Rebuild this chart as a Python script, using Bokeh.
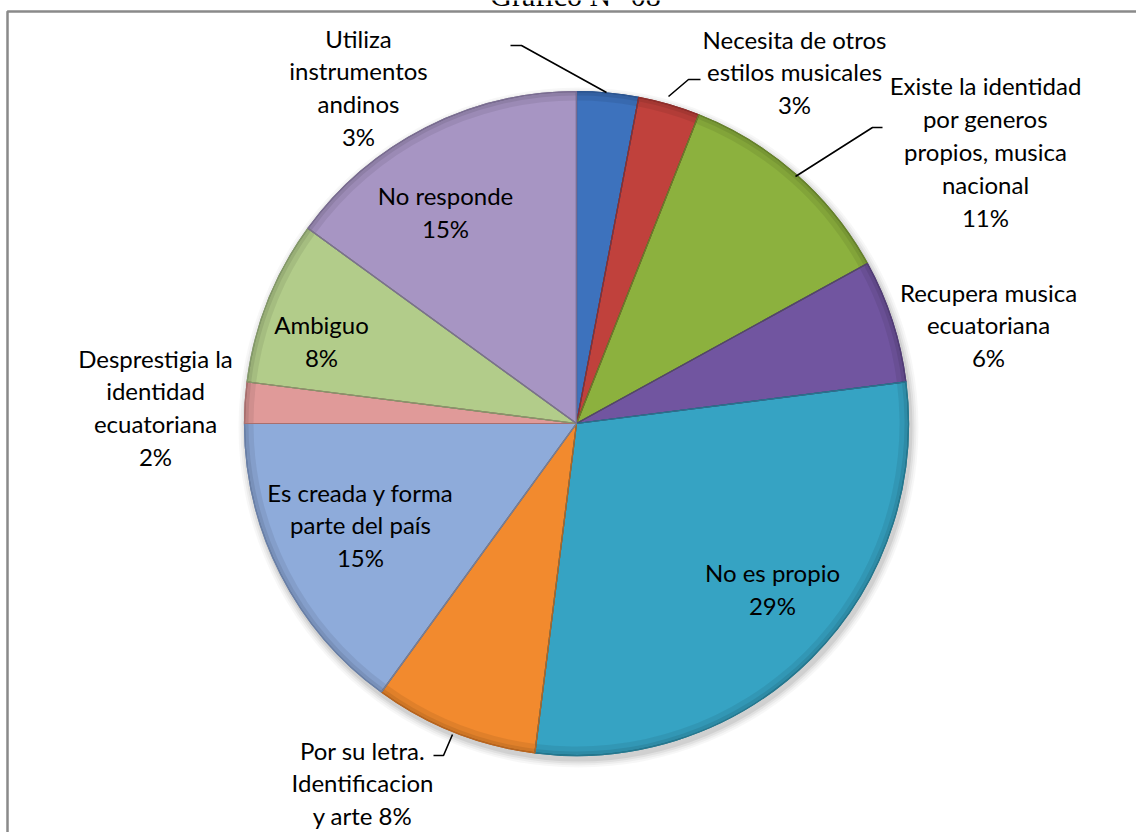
import numpy as np
from bokeh.plotting import figure
from bokeh.models import Range1d, ColumnDataSource
from bokeh.core.properties import value
from bokeh.embed import file_html
from bokeh.resources import INLINE

# ---- data ----
categories = [
    "Utiliza\ninstrumentos\nandinos",
    "Necesita de otros\nestilos musicales",
    "Existe la identidad\npor generos\npropios, musica\nnacional",
    "Recupera musica\necuatoriana",
    "No es propio",
    "Por su letra.\nIdentificacion\ny arte",
    "Es creada y forma\nparte del país",
    "Desprestigia la\nidentidad\necuatoriana",
    "Ambiguo",
    "No responde",
]
percent = [3, 3, 11, 6, 29, 8, 15, 2, 8, 15]
colors = ["#3d72bd", "#c0413c", "#8cb13e", "#7155a0", "#36a3c3",
          "#f28a2e", "#8eabda", "#e09a99", "#b2cc8a", "#a795c3"]
edge_colors = ["#2c5590", "#8f2e2b", "#66822c", "#523d76", "#25788f",
               "#b8651f", "#6a80a8", "#a86f6e", "#84996a", "#7a6d91"]
title = "Gráfico N° 08"

# label texts and positions (page pixels: centre x, centre y of first line)
label_text = [
    "Utiliza\ninstrumentos\nandinos\n3%",
    "Necesita de otros\nestilos musicales\n3%",
    "Existe la identidad\npor generos\npropios, musica\nnacional\n11%",
    "Recupera musica\necuatoriana\n6%",
    "No es propio\n29%",
    "Por su letra.\nIdentificacion\ny arte 8%",
    "Es creada y forma\nparte del país\n15%",
    "Desprestigia la\nidentidad\necuatoriana\n2%",
    "Ambiguo\n8%",
    "No responde\n15%",
]
label_px = [358, 794, 985, 988, 772, 362, 360, 155, 321, 445]
label_py_top = [38, 39, 86, 292, 572, 750, 492, 358, 324, 195]
LINE = 32.5

leaders = [
    [(510, 45), (521, 45), (606, 92)],
    [(700, 79), (688, 79), (668, 96)],
    [(882, 127), (872, 127), (795, 176)],
    [(433, 755), (443, 755), (452, 734)],
]

W, H = 1136, 832
def X(px): return px
def Y(py): return H - py

p = figure(width=W, height=H, x_range=Range1d(0, W), y_range=Range1d(0, H),
           output_backend="svg", toolbar_location=None, min_border=0)
p.axis.visible = False
p.grid.visible = False
p.outline_line_color = None
p.background_fill_color = "white"
p.border_fill_color = "white"

# title (cut off at the top as in the reference)
p.text(x=[X(575)], y=[Y(-5)], text=[title], text_font=value("Liberation Serif"),
       text_font_size="30px", text_align="center", text_baseline="alphabetic",
       text_color="black")

# frame
p.line([X(7), X(7), X(1140)], [Y(900), Y(11), Y(11)], line_color="#8a8a8a", line_width=2.5)

cx, cy, R = X(576), Y(423), 332

# soft shadow
for k, a in [(8, 0.03), (6, 0.04), (4, 0.05), (2, 0.07)]:
    p.circle(x=[cx + 2], y=[cy - 4], radius=R + k, fill_color="black", fill_alpha=a, line_color=None)

frac = np.array(percent, dtype=float) / sum(percent)
cum = np.concatenate([[0], np.cumsum(frac)]) * 2 * np.pi
start = np.pi / 2 - cum[:-1]
end = np.pi / 2 - cum[1:]

src = ColumnDataSource(dict(start=start, end=end, color=colors, edge=edge_colors,
                            cat=categories, pct=percent))
p.wedge(x=cx, y=cy, radius=R, start_angle="start", end_angle="end", direction="clock",
        fill_color="color", line_color="edge", line_width=1.2, source=src)
# bevel-like rim shading
p.annular_wedge(x=cx, y=cy, inner_radius=R - 9, outer_radius=R, start_angle="start",
                end_angle="end", direction="clock", fill_color="black", fill_alpha=0.07,
                line_color=None, source=src)
p.annular_wedge(x=cx, y=cy, inner_radius=R - 4, outer_radius=R, start_angle="start",
                end_angle="end", direction="clock", fill_color="black", fill_alpha=0.08,
                line_color=None, source=src)
p.wedge(x=cx, y=cy, radius=R, start_angle="start", end_angle="end", direction="clock",
        fill_color=None, line_color="edge", line_width=1.2, source=src)

# leader lines
for pts in leaders:
    p.line([X(a) for a, b in pts], [Y(b) for a, b in pts], line_color="black", line_width=1.6)

# labels (block centred vertically)
ly = [Y(t + (s.count("\n")) * LINE / 2) for t, s in zip(label_py_top, label_text)]
lsrc = ColumnDataSource(dict(x=[X(v) for v in label_px], y=ly, t=label_text))
p.text(x="x", y="y", text="t", source=lsrc, text_font=value("Lato"), text_font_size="24px",
       text_align="center", text_baseline="middle", text_line_height=1.13, text_color="black")

open("out.html", "w").write(file_html(p, INLINE))
